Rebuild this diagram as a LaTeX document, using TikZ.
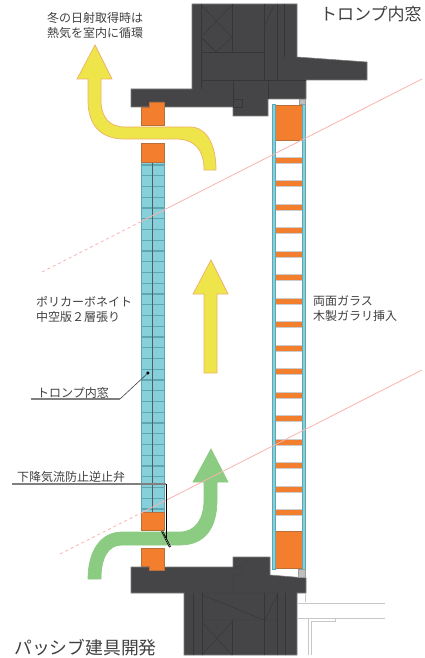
\documentclass[tikz,border=0pt]{standalone}
\usepackage{fontspec}
\setmainfont{Noto Sans CJK JP}
\usetikzlibrary{positioning}
\definecolor{frameC}{HTML}{454547}
\definecolor{frameL}{HTML}{363638}
\definecolor{woodC}{HTML}{F37F2E}
\definecolor{woodL}{HTML}{B8703A}
\definecolor{panelC}{HTML}{86D0DC}
\definecolor{panelL}{HTML}{5FA6B3}
\definecolor{warmC}{HTML}{EDE54A}
\definecolor{warmL}{HTML}{EFB06A}
\definecolor{coolC}{HTML}{8CCB82}
\definecolor{sunC}{HTML}{F7B3B0}
\definecolor{textC}{HTML}{404040}
\begin{document}
\begin{tikzpicture}[x=1pt,y=-1pt,
    every node/.style={inner sep=0pt,text=textC,align=left,anchor=west},
    small/.style={font=\fontsize{12}{15}\selectfont},
    big/.style={font=\fontsize{17.8}{20}\selectfont},
    frame/.style={fill=frameC,draw=frameC!70!white,line width=0.6pt},
    frameline/.style={draw=frameL,line width=0.4pt},
    wood/.style={fill=woodC,draw=woodL,line width=0.4pt},
    glass/.style={fill=panelC,draw=panelL,line width=0.5pt},
    warm/.style={fill=warmC,draw=warmL,line width=0.7pt},
    cool/.style={fill=coolC,draw=coolC,line width=0.7pt},
    sun/.style={draw=sunC,line width=0.8pt},
    leader/.style={draw=black!50,line width=1.1pt},
    faint/.style={draw=black!22,line width=1pt}]
\useasboundingbox (0,0) rectangle (424,658);
% frame, top
\draw [frame] (192,4) -- (297,4) -- (297,57) -- (367,62) -- (367,80) -- (306,80) -- (306,99) -- (268,99) -- (268,116) -- (233,116) -- (233,107) -- (131,107) -- (131,89) -- (192,89) -- cycle;
\draw [frameline] (201,4) -- (201,89) (232,4) -- (232,52) (264,4) -- (264,80) (277,4) -- (277,80) (284,4) -- (284,57);
\draw [frameline] (201,5) -- (232,37) (232,5) -- (201,37) (201,37) -- (216,52) -- (232,37) (265,25) -- (274,5);
\draw [frameline] (201,52) -- (264,52) (201,80) -- (306,80) (233,80) -- (233,107) (233,99) -- (242,99) -- (242,107) -- (233,107) (268,80) -- (268,99);
% frame, bottom
\draw [frame] (131,567) -- (233,567) -- (233,557) -- (270,557) -- (270,575) -- (306,578) -- (306,593) -- (297,593) -- (297,655) -- (184,655) -- (184,593) -- (131,593) -- cycle;
\draw [frameline] (193,593) -- (193,655) (202,593) -- (202,655) (264,593) -- (264,655) (277,593) -- (277,655) (285,593) -- (285,655) (232,620) -- (232,655);
\draw [frameline] (202,593) -- (277,593) (202,620) -- (277,620) (277,593) -- (277,620) (202,595) -- (264,620) (265,620) -- (277,595);
\draw [frameline] (202,622) -- (232,655) (232,622) -- (202,655) (233,575) -- (242,575) -- (242,567) -- (233,567) (233,575) -- (233,593);
% room below
\draw [faint] (297,603) -- (385,603) (297,618) -- (385,618);
\draw [faint,line width=0.6pt] (305,593) -- (305,602) (308,655) -- (308,618) -- (335,618) -- (335,621) -- (311,621) -- (311,655);
% left panel
\draw [glass] (141,162) rectangle (164,512);
\foreach \n in {0,...,32}
    \draw [draw=panelL,line width=1.1pt] (141,{165+10.75*\n}) -- (164,{165+10.75*\n});
\draw [draw=black!65,line width=0.6pt] (152.5,162) -- (152.5,512);
\draw [wood] (149,102) -- (164,102) -- (164,125) -- (141,125) -- (141,107) -- (149,107) -- cycle;
\draw [wood] (141,143) rectangle (164,162);
\draw [wood] (141,512) rectangle (164,530);
\draw [wood] (141,548) -- (164,548) -- (164,570) -- (149,570) -- (149,566) -- (141,566) -- cycle;
% right panel
\foreach \n in {0,...,15}
    \draw [wood,draw=black!20,line width=0.7pt] (275,{157+23.5*\n}) rectangle (302,{163+23.5*\n});
\draw [wood] (275,105) rectangle (302,140);
\draw [wood] (275,531) rectangle (302,568);
\draw [glass] (272,104) rectangle (275.5,569);
\draw [glass] (302,104) rectangle (305.5,569);
\draw [fill=black!25,draw=black!40,line width=0.3pt] (299,99) rectangle (305.5,104);
\draw [fill=black!25,draw=black!40,line width=0.3pt] (298,569) rectangle (305.5,577);
% air
\draw [warm] (204,170) .. controls (204,150) and (195,139) .. (175,139) -- (125,139) .. controls (100,139) and (88,125) .. (88,100) -- (88,79) -- (77,79) -- (95,45) -- (112,79) -- (101,79) -- (101,100) .. controls (101,118) and (110,127) .. (125,127) -- (190,127) .. controls (207,127) and (216,145) .. (216,170) -- cycle;
\draw [warm] (204,373) -- (204,294) -- (193,294) -- (211,260) -- (228,294) -- (217,294) -- (217,373) -- cycle;
\draw [cool] (88,579) .. controls (88,552) and (100,532) .. (122,532) -- (180,532) .. controls (196,532) and (204,518) .. (204,500) -- (204,482) -- (193,482) -- (211,449) -- (228,482) -- (217,482) -- (217,500) .. controls (217,528) and (205,545) .. (180,545) -- (122,545) .. controls (108,545) and (101,558) .. (101,579) -- cycle;
% sun lines
\draw [sun,dashed] (42,272) -- (141,221.6);
\draw [sun] (141,221.6) -- (422,79);
\draw [sun,dashed] (60,554) -- (141,513);
\draw [sun] (141,513) -- (422,370);
% labels
\node [small] (winter) at (47,25) {冬の日射取得時は\\熱気を室内に循環};
\node [big,font=\fontsize{17}{20}\selectfont] (title) at (320,14) {トロンプ内窓};
\node [big] (passive) at (14,648) {パッシブ建具開発};
\node [small] (pc) at (36,309) {ポリカーボネイト\\中空版２層張り};
\node [small] (inner) at (37,393) {トロンプ内窓};
\node [small] (valve) at (17,477) {下降気流防止逆止弁};
\node [small] (glazing) at (313,309) {両面ガラス\\木製ガラリ挿入};
% leaders
\coordinate (innerL) at (31,399);
\coordinate (innerK) at (120,399);
\node [circle,fill=black,minimum size=3.5pt] (innerD) at (146,373) {};
\draw [leader] (innerL) -- (innerK);
\draw [draw=black!75,line width=0.6pt] (innerK) -- (innerD);
\coordinate (valveL) at (12,484);
\coordinate (valveK) at (166,484);
\coordinate (valveE) at (166,540);
\coordinate (flapA) at (162,531);
\coordinate (flapB) at (170,547);
\draw [leader] (valveL) -- (valveK);
\draw [draw=black,line width=0.6pt] (valveK) -- (valveE);
\draw [draw=black,line width=1.8pt] (flapA) -- (flapB);
\draw [draw=white,line width=0.5pt,dash pattern=on 1pt off 1pt] (flapA) -- (flapB);
\end{tikzpicture}
\end{document}
